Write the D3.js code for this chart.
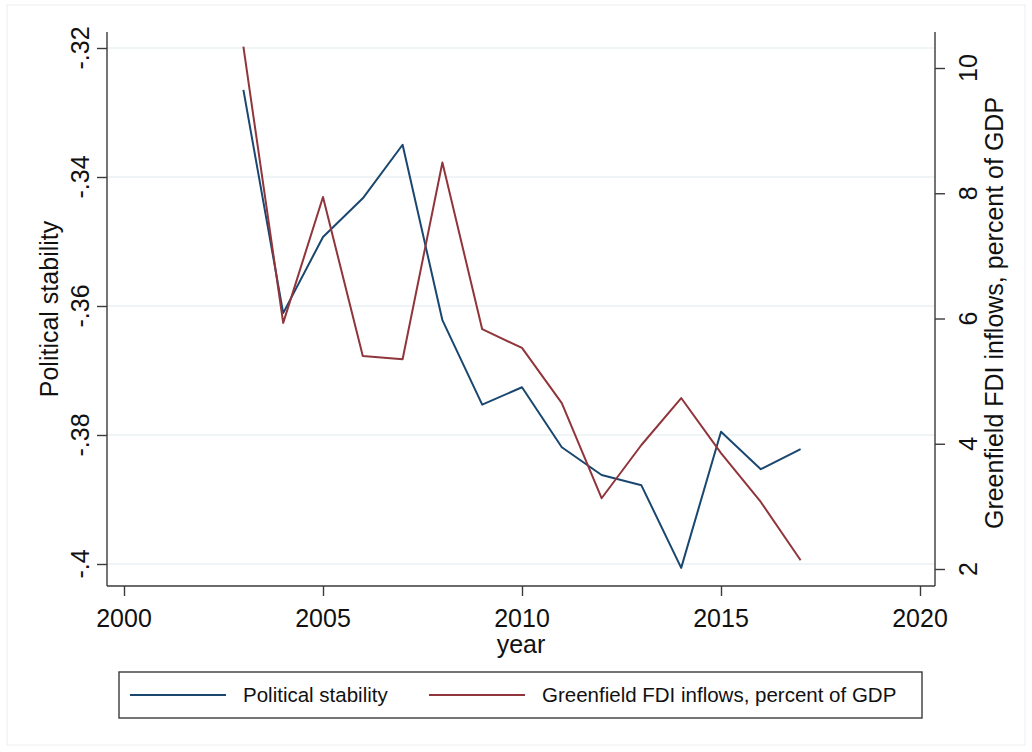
<!DOCTYPE html>
<html>
<head>
<meta charset="utf-8">
<script src="https://cdn.jsdelivr.net/npm/d3@7"></script>
<style>
  body { margin: 0; background: #fff; }
  svg { display: block; font-family: "Liberation Sans", Arial, sans-serif; }
</style>
</head>
<body>
<div id="chart"></div>
<script>
const years = [2003, 2004, 2005, 2006, 2007, 2008, 2009, 2010, 2011, 2012, 2013, 2014, 2015, 2016, 2017];
const stability = [-0.3265, -0.3611, -0.3493, -0.3433, -0.3350, -0.3622, -0.3753, -0.3726, -0.3819, -0.3862, -0.3878, -0.4006, -0.3795, -0.3853, -0.3822];
const fdi = [10.34, 5.93, 7.94, 5.40, 5.35, 8.49, 5.83, 5.53, 4.65, 3.13, 3.98, 4.73, 3.85, 3.07, 2.14];

const xTicks = [2000, 2005, 2010, 2015, 2020];
const leftTicks = [-0.32, -0.34, -0.36, -0.38, -0.40];
const leftLabels = ['-.32', '-.34', '-.36', '-.38', '-.4'];
const rightTicks = [2, 4, 6, 8, 10];

const W = 1032, H = 752;
const plot = { left: 107, right: 935, top: 32, bottom: 586 };

const svg = d3.select('#chart').append('svg')
  .attr('width', W)
  .attr('height', H);

// faint outer frame
svg.append('rect')
  .attr('x', 7).attr('y', 5)
  .attr('width', 1018).attr('height', 740)
  .attr('fill', 'none')
  .attr('stroke', '#eeeeee');

const x = d3.scaleLinear().domain([2000, 2020]).range([124, 920]);
const yL = d3.scaleLinear().domain([-0.40, -0.32]).range([564, 48]);
const yR = d3.scaleLinear().domain([2, 10]).range([569, 68]);

// gridlines
svg.append('g')
  .selectAll('line')
  .data(leftTicks)
  .join('line')
  .attr('x1', plot.left).attr('x2', plot.right)
  .attr('y1', d => yL(d)).attr('y2', d => yL(d))
  .attr('stroke', '#eaf1f3')
  .attr('stroke-width', 1.4);

const axisColor = '#3a3a3a';

// left axis
const gl = svg.append('g')
  .attr('transform', `translate(${plot.left},0)`)
  .call(d3.axisLeft(yL).tickValues(leftTicks).tickSize(10).tickFormat(''));
gl.select('.domain').attr('d', `M0,${plot.top}V${plot.bottom}`);
gl.selectAll('path, line').attr('stroke', axisColor).attr('stroke-width', 1.4);

svg.append('g')
  .selectAll('text')
  .data(leftTicks)
  .join('text')
  .attr('transform', d => `translate(89,${yL(d)}) rotate(-90)`)
  .attr('text-anchor', 'middle')
  .style('font-size', '25px')
  .attr('fill', '#111')
  .text((d, i) => leftLabels[i]);

// right axis
const gr = svg.append('g')
  .attr('transform', `translate(${plot.right},0)`)
  .call(d3.axisRight(yR).tickValues(rightTicks).tickSize(10).tickFormat(''));
gr.select('.domain').attr('d', `M0,${plot.top}V${plot.bottom}`);
gr.selectAll('path, line').attr('stroke', axisColor).attr('stroke-width', 1.4);

svg.append('g')
  .selectAll('text')
  .data(rightTicks)
  .join('text')
  .attr('transform', d => `translate(977,${yR(d)}) rotate(-90)`)
  .attr('text-anchor', 'middle')
  .style('font-size', '25px')
  .attr('fill', '#111')
  .text(d => d);

// bottom axis
const gb = svg.append('g')
  .attr('transform', `translate(0,${plot.bottom})`)
  .call(d3.axisBottom(x).tickValues(xTicks).tickSize(10).tickFormat(''));
gb.select('.domain').attr('d', `M${plot.left},0H${plot.right}`);
gb.selectAll('path, line').attr('stroke', axisColor).attr('stroke-width', 1.4);

svg.append('g')
  .selectAll('text')
  .data(xTicks)
  .join('text')
  .attr('x', d => x(d))
  .attr('y', 627)
  .attr('text-anchor', 'middle')
  .style('font-size', '25px')
  .attr('fill', '#111')
  .text(d => d);

// axis titles
svg.append('text')
  .attr('x', 521).attr('y', 653)
  .attr('text-anchor', 'middle')
  .style('font-size', '25px')
  .attr('fill', '#111')
  .text('year');

svg.append('text')
  .attr('transform', `translate(58,${(plot.top + plot.bottom) / 2}) rotate(-90)`)
  .attr('text-anchor', 'middle')
  .style('font-size', '25px')
  .attr('fill', '#111')
  .text('Political stability');

svg.append('text')
  .attr('transform', `translate(1003,313) rotate(-90)`)
  .attr('text-anchor', 'middle')
  .style('font-size', '25px')
  .attr('fill', '#111')
  .text('Greenfield FDI inflows, percent of GDP');

// series
const blue = '#1a476f', red = '#90353b';

const lineL = d3.line().x((d, i) => x(years[i])).y(d => yL(d));
const lineR = d3.line().x((d, i) => x(years[i])).y(d => yR(d));

svg.append('path')
  .datum(stability)
  .attr('d', lineL)
  .attr('fill', 'none')
  .attr('stroke', blue)
  .attr('stroke-width', 2)
  .attr('stroke-linejoin', 'round');

svg.append('path')
  .datum(fdi)
  .attr('d', lineR)
  .attr('fill', 'none')
  .attr('stroke', red)
  .attr('stroke-width', 2)
  .attr('stroke-linejoin', 'round');

// legend
const legend = svg.append('g');
legend.append('rect')
  .attr('x', 119).attr('y', 672)
  .attr('width', 803).attr('height', 46)
  .attr('fill', '#fff')
  .attr('stroke', axisColor)
  .attr('stroke-width', 1.4);

const legendItems = [
  { label: 'Political stability', color: blue, x0: 130 },
  { label: 'Greenfield FDI inflows, percent of GDP', color: red, x0: 429 }
];

legendItems.forEach(item => {
  legend.append('line')
    .attr('x1', item.x0).attr('x2', item.x0 + 96)
    .attr('y1', 695).attr('y2', 695)
    .attr('stroke', item.color)
    .attr('stroke-width', 2);
  legend.append('text')
    .attr('x', item.x0 + 113)
    .attr('y', 702)
    .style('font-size', '20.5px')
    .attr('fill', '#111')
    .text(item.label);
});
</script>
</body>
</html>
